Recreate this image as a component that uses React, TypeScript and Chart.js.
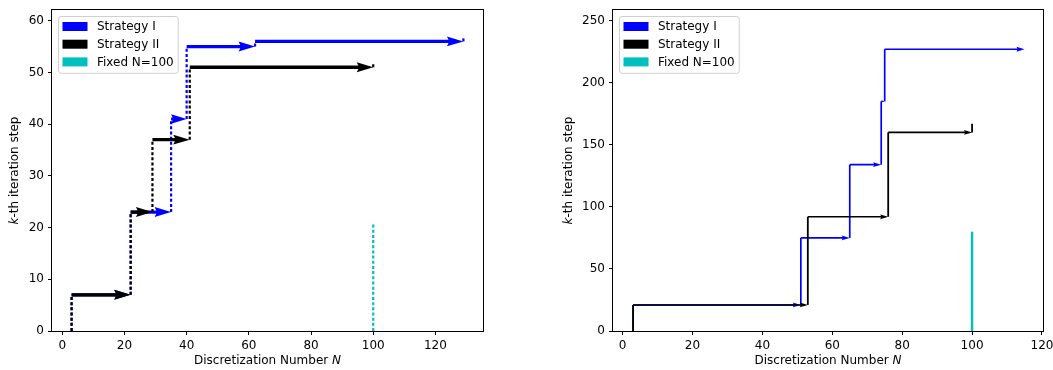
import React, { useEffect, useRef } from "react";
import { Chart, registerables } from "chart.js";

Chart.register(...registerables);

const FONT = '"DejaVu Sans", sans-serif';
const FONT_SIZE = 12;

const SERIES_NAMES = ["Strategy I", "Strategy II", "Fixed N=100"];
const SERIES_COLORS = ["#0000ff", "#000000", "#00bfbf"];

// Left panel: path vertices (discretization number N, iteration step k)
const LEFT_S1_N = [3, 3, 22, 22, 35, 35, 40, 40, 62, 62, 129, 129];
const LEFT_S1_K = [0, 7, 7, 23, 23, 41, 41, 55, 55, 56, 56, 57];
const LEFT_S2_N = [3, 3, 22, 22, 29, 29, 41, 41, 100, 100];
const LEFT_S2_K = [0, 7, 7, 23, 23, 37, 37, 51, 51, 52];
const LEFT_FIX_N = [100, 100];
const LEFT_FIX_K = [0, 21];

// Right panel
const RIGHT_S1_N = [3, 3, 51, 51, 65, 65, 74, 74, 75, 75, 115];
const RIGHT_S1_K = [0, 21, 21, 75, 75, 134, 134, 185, 185, 227, 227];
const RIGHT_S2_N = [3, 3, 53, 53, 76, 76, 100, 100];
const RIGHT_S2_K = [0, 21, 21, 92, 92, 160, 160, 167];
const RIGHT_FIX_N = [100, 100];
const RIGHT_FIX_K = [0, 80];

const LEFT_X_TICKS = [0, 20, 40, 60, 80, 100, 120];
const LEFT_Y_TICKS = [0, 10, 20, 30, 40, 50, 60];
const RIGHT_X_TICKS = [0, 20, 40, 60, 80, 100, 120];
const RIGHT_Y_TICKS = [0, 50, 100, 150, 200, 250];

type Series = { n: number[]; k: number[] };

type PanelSpec = {
  series: Series[];
  xMin: number;
  xMax: number;
  yMin: number;
  yMax: number;
  xTicks: number[];
  yTicks: number[];
  shaft: number;
  lineWidths: number[];
  dotted: boolean[];
  canvasLeft: number;
  canvasWidth: number;
  padRight: number;
  yAxisWidth: number;
  yTitleX: number;
};

const LEFT_PANEL: PanelSpec = {
  series: [
    { n: LEFT_S1_N, k: LEFT_S1_K },
    { n: LEFT_S2_N, k: LEFT_S2_K },
    { n: LEFT_FIX_N, k: LEFT_FIX_K },
  ],
  xMin: -3.3,
  xMax: 135.3,
  yMin: 0,
  yMax: 62.07,
  xTicks: LEFT_X_TICKS,
  yTicks: LEFT_Y_TICKS,
  shaft: 3.3,
  lineWidths: [2.2, 2.2, 2.2],
  dotted: [true, true, true],
  canvasLeft: 0,
  canvasWidth: 520,
  padRight: 37,
  yAxisWidth: 52,
  yTitleX: 18,
};

const RIGHT_PANEL: PanelSpec = {
  series: [
    { n: RIGHT_S1_N, k: RIGHT_S1_K },
    { n: RIGHT_S2_N, k: RIGHT_S2_K },
    { n: RIGHT_FIX_N, k: RIGHT_FIX_K },
  ],
  xMin: -2.75,
  xMax: 120.3,
  yMin: 0,
  yMax: 258.6,
  xTicks: RIGHT_X_TICKS,
  yTicks: RIGHT_Y_TICKS,
  shaft: 1.6,
  lineWidths: [1.7, 1.8, 2.4],
  dotted: [false, false, false],
  canvasLeft: 530,
  canvasWidth: 523,
  padRight: 10,
  yAxisWidth: 83,
  yTitleX: 42,
};

const CANVAS_HEIGHT = 370;
const PLOT_TOP = 10;
const X_AXIS_HEIGHT = 39;

// Quiver-style arrow pointing right, tip at x1
function drawArrow(c: CanvasRenderingContext2D, x0: number, x1: number, y: number, w: number) {
  const len = x1 - x0;
  if (len <= 0) return;
  let hl = 5 * w;
  let hw = 1.5 * w;
  let ha = 4.5 * w;
  let sw = w / 2;
  if (len < hl) {
    const s = len / hl;
    hl *= s;
    hw *= s;
    ha *= s;
    sw *= s;
  }
  c.beginPath();
  c.moveTo(x0, y - sw);
  c.lineTo(x1 - ha, y - sw);
  c.lineTo(x1 - hl, y - hw);
  c.lineTo(x1, y);
  c.lineTo(x1 - hl, y + hw);
  c.lineTo(x1 - ha, y + sw);
  c.lineTo(x0, y + sw);
  c.closePath();
  c.fill();
}

function drawMixed(
  c: CanvasRenderingContext2D,
  parts: { text: string; italic: boolean }[],
  cx: number,
  y: number
) {
  const fonts = parts.map((p) => `${p.italic ? "italic " : ""}${FONT_SIZE}px ${FONT}`);
  const widths = parts.map((p, i) => {
    c.font = fonts[i];
    return c.measureText(p.text).width;
  });
  const total = widths.reduce((a, b) => a + b, 0);
  let x = cx - total / 2;
  c.textAlign = "left";
  parts.forEach((p, i) => {
    c.font = fonts[i];
    c.fillText(p.text, x, y);
    x += widths[i];
  });
}

function clearScalePadding(axis: any) {
  axis.paddingLeft = 0;
  axis.paddingRight = 0;
  axis.paddingTop = 0;
  axis.paddingBottom = 0;
}

function makeChart(canvas: HTMLCanvasElement, p: PanelSpec) {
  const decor = {
    id: "quiverDecor",
    afterDatasetDraw(chart: any, args: any) {
      const ds = chart.data.datasets[args.index];
      const s = p.series[args.index];
      const pts = args.meta.data;
      const c: CanvasRenderingContext2D = chart.ctx;
      c.save();
      c.fillStyle = ds.borderColor;
      for (let j = 0; j < pts.length - 1; j++) {
        if (s.k[j] === s.k[j + 1] && s.n[j] !== s.n[j + 1]) {
          drawArrow(c, pts[j].x, pts[j + 1].x, pts[j].y, p.shaft);
        }
      }
      c.restore();
    },
    afterDraw(chart: any) {
      const c: CanvasRenderingContext2D = chart.ctx;
      const ca = chart.chartArea;
      c.save();

      // axes frame
      c.strokeStyle = "#000";
      c.lineWidth = 1;
      c.strokeRect(ca.left - 0.5, ca.top - 0.5, ca.right - ca.left + 1, ca.bottom - ca.top + 1);

      // legend
      c.font = `${FONT_SIZE}px ${FONT}`;
      const textW = Math.max(...SERIES_NAMES.map((t) => c.measureText(t).width));
      const bx = ca.left + 6.5;
      const by = ca.top + 6.5;
      const rowH = 17.7;
      const bw = 38.4 + textW + 4.5;
      const bh = 10 + rowH * 2 + 11.4;
      c.beginPath();
      c.roundRect(bx, by, bw, bh, 2.5);
      c.fillStyle = "rgba(255,255,255,0.8)";
      c.fill();
      c.strokeStyle = "#d0d0d0";
      c.lineWidth = 1;
      c.stroke();
      c.textBaseline = "middle";
      c.textAlign = "left";
      SERIES_NAMES.forEach((name, i) => {
        const cy = by + 10 + i * rowH;
        c.fillStyle = SERIES_COLORS[i];
        c.fillRect(bx + 4, cy - 4.5, 25, 9);
        c.fillStyle = "#000";
        c.fillText(name, bx + 38.4, cy + 0.5);
      });

      // axis titles
      c.fillStyle = "#000";
      c.textBaseline = "alphabetic";
      drawMixed(
        c,
        [
          { text: "Discretization Number ", italic: false },
          { text: "N", italic: true },
        ],
        (ca.left + ca.right) / 2,
        364
      );
      c.save();
      c.translate(p.yTitleX, (ca.top + ca.bottom) / 2);
      c.rotate(-Math.PI / 2);
      drawMixed(
        c,
        [
          { text: "k", italic: true },
          { text: "-th iteration step", italic: false },
        ],
        0,
        0
      );
      c.restore();
      c.restore();
    },
  };

  const datasets = p.series.map((s, i) => ({
    label: SERIES_NAMES[i],
    data: s.n.map((x, j) => ({ x, y: s.k[j] })),
    borderColor: SERIES_COLORS[i],
    backgroundColor: SERIES_COLORS[i],
    borderWidth: p.lineWidths[i],
    borderCapStyle: "butt",
    borderJoinStyle: "miter",
    pointRadius: 0,
    fill: false,
    tension: 0,
    order: 3 - i,
    segment: {
      borderColor: (ctx: any) =>
        s.k[ctx.p0DataIndex] === s.k[ctx.p1DataIndex] ? "rgba(0,0,0,0)" : SERIES_COLORS[i],
      borderDash: (ctx: any) => {
        if (!p.dotted[i]) return [];
        const dk = Math.abs(s.k[ctx.p1DataIndex] - s.k[ctx.p0DataIndex]);
        if (!dk) return [];
        const per = Math.abs(ctx.p1.y - ctx.p0.y) / dk;
        return [per * 0.58, per * 0.42];
      },
    },
  }));

  const tickFont = { family: FONT, size: FONT_SIZE };
  const grid = {
    display: true,
    drawOnChartArea: false,
    drawTicks: true,
    tickLength: 4,
    color: "#000",
    lineWidth: 1,
  };

  return new Chart(canvas, {
    type: "line",
    data: { datasets: datasets as any },
    options: {
      animation: false,
      responsive: false,
      events: [],
      layout: {
        autoPadding: false,
        padding: { left: 0, right: p.padRight, top: PLOT_TOP, bottom: 0 },
      },
      plugins: {
        legend: { display: false },
        tooltip: { enabled: false },
        title: { display: false },
      },
      scales: {
        x: {
          type: "linear",
          min: p.xMin,
          max: p.xMax,
          afterBuildTicks: (axis: any) => {
            axis.ticks = p.xTicks.map((v) => ({ value: v }));
          },
          afterFit: (axis: any) => {
            axis.height = X_AXIS_HEIGHT;
            clearScalePadding(axis);
          },
          grid,
          border: { display: false },
          ticks: { font: tickFont, color: "#000", padding: 4, maxRotation: 0, autoSkip: false },
        },
        y: {
          type: "linear",
          min: p.yMin,
          max: p.yMax,
          afterBuildTicks: (axis: any) => {
            axis.ticks = p.yTicks.map((v) => ({ value: v }));
          },
          afterFit: (axis: any) => {
            axis.width = p.yAxisWidth;
            clearScalePadding(axis);
          },
          grid,
          border: { display: false },
          ticks: { font: tickFont, color: "#000", padding: 4, autoSkip: false },
        },
      },
    } as any,
    plugins: [decor],
  });
}

function Panel({ spec }: { spec: PanelSpec }) {
  const ref = useRef<HTMLCanvasElement | null>(null);
  useEffect(() => {
    if (!ref.current) return;
    const chart = makeChart(ref.current, spec);
    return () => chart.destroy();
  }, [spec]);
  return (
    <div
      style={{
        position: "absolute",
        left: spec.canvasLeft,
        top: 0,
        width: spec.canvasWidth,
        height: CANVAS_HEIGHT,
      }}
    >
      <canvas
        ref={ref}
        width={spec.canvasWidth}
        height={CANVAS_HEIGHT}
        style={{ display: "block", width: spec.canvasWidth, height: CANVAS_HEIGHT }}
      />
    </div>
  );
}

export default function App() {
  return (
    <div
      style={{
        position: "absolute",
        left: 0,
        top: 0,
        width: 1053,
        height: CANVAS_HEIGHT,
        background: "#fff",
        overflow: "hidden",
      }}
    >
      <Panel spec={LEFT_PANEL} />
      <Panel spec={RIGHT_PANEL} />
    </div>
  );
}
